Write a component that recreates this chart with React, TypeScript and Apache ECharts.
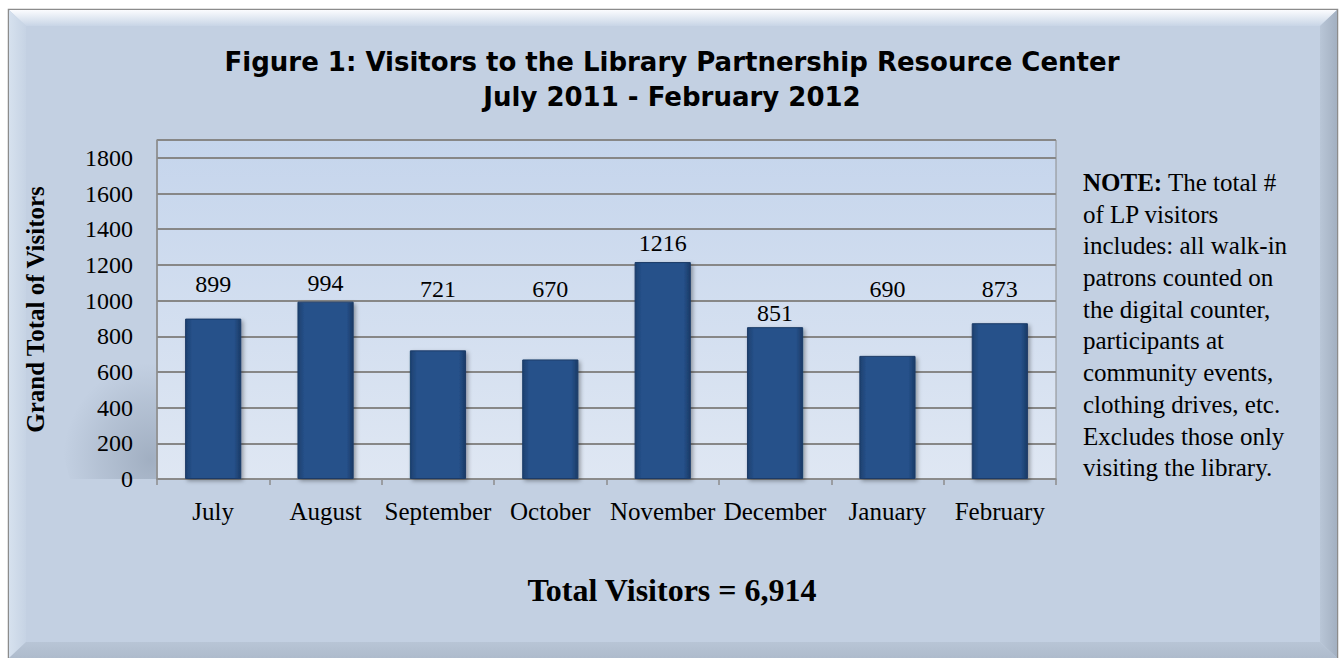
import React, { useEffect, useRef } from "react";
import * as echarts from "echarts";

const months = ["July", "August", "September", "October", "November", "December", "January", "February"];
const visitors = [899, 994, 721, 670, 1216, 851, 690, 873];
// vertical nudge (px) of each value label, as placed in the original chart
const labelNudge = [-18, -2, -44, -53, -2, 3, -50, -17];
const yMax = 1900;
const yStep = 200;
const titleLine1 = "Figure 1: Visitors to the Library Partnership Resource Center";
const titleLine2 = "July 2011 - February 2012";
const yAxisTitle = "Grand Total of Visitors";
const totalText = "Total Visitors = 6,914";
const noteLead = "NOTE:";
const noteLines = [
  " The total #",
  "of LP visitors",
  "includes: all walk-in",
  "patrons counted on",
  "the digital counter,",
  "participants at",
  "community events,",
  "clothing drives, etc.",
  "Excludes those only",
  "visiting the library.",
];

const SERIF = "'Liberation Serif', 'DejaVu Serif', serif";
const SANS = "'DejaVu Sans', 'Noto Sans', sans-serif";

export default function App() {
  const ref = useRef<HTMLDivElement>(null);
  useEffect(() => {
    if (!ref.current) return;
    const chart = echarts.init(ref.current, undefined, { renderer: "svg" });
    const noteText =
      "{b|" + noteLead + "}{r|" + noteLines[0] + "}\n" + noteLines.slice(1).map((l) => "{r|" + l + "}").join("\n");
    const barData = visitors.map((v, i) => ({ value: v, label: { offset: [0, labelNudge[i]] } }));
    const option: any = {
      animation: false,
      backgroundColor: "#ffffff",
      textStyle: { fontFamily: SERIF },
      graphic: [
        {
          type: "rect",
          z: -10,
          shape: { x: 8.5, y: 9.5, width: 1329, height: 660 },
          style: { fill: "#c3d0e2", stroke: "#8c8c8c", lineWidth: 1.5 },
        },
        {
          type: "polygon",
          z: -9,
          shape: { points: [[9, 10], [1337, 10], [1320, 26], [26, 26]] },
          style: {
            fill: new echarts.graphic.LinearGradient(0, 0, 0, 1, [
              { offset: 0, color: "#fbfcfe" },
              { offset: 1, color: "#c8d5e6" },
            ]),
          },
        },
        {
          type: "polygon",
          z: -9,
          shape: { points: [[9, 10], [26, 26], [26, 642], [9, 658]] },
          style: {
            fill: new echarts.graphic.LinearGradient(0, 0, 1, 0, [
              { offset: 0, color: "#d6e1ee" },
              { offset: 1, color: "#c6d3e4" },
            ]),
          },
        },
        {
          type: "polygon",
          z: -9,
          shape: { points: [[1337, 10], [1337, 658], [1320, 642], [1320, 26]] },
          style: {
            fill: new echarts.graphic.LinearGradient(0, 0, 1, 0, [
              { offset: 0, color: "#b9c6d7" },
              { offset: 1, color: "#a3b0c1" },
            ]),
          },
        },
        {
          type: "polygon",
          z: -9,
          shape: { points: [[9, 658], [26, 642], [1320, 642], [1337, 658]] },
          style: {
            fill: new echarts.graphic.LinearGradient(0, 0, 0, 1, [
              { offset: 0, color: "#b8c5d6" },
              { offset: 1, color: "#aebbcc" },
            ]),
          },
        },
        {
          type: "polygon",
          z: -8,
          shape: { points: [[40, 370], [156, 350], [156, 479], [70, 479]] },
          style: {
            fill: new echarts.graphic.RadialGradient(0.95, 0.85, 0.75, [
              { offset: 0, color: "rgba(110,125,145,0.4)" },
              { offset: 0.6, color: "rgba(115,130,150,0.18)" },
              { offset: 1, color: "rgba(120,135,155,0)" },
            ]),
          },
        },
        {
          type: "text",
          style: {
            text: titleLine1,
            x: 672,
            y: 62,
            align: "center",
            verticalAlign: "middle",
            font: "bold 26px " + SANS,
            fill: "#000000",
          },
        },
        {
          type: "text",
          style: {
            text: titleLine2,
            x: 672,
            y: 97,
            align: "center",
            verticalAlign: "middle",
            font: "bold 26px " + SANS,
            fill: "#000000",
          },
        },
        {
          type: "text",
          style: {
            text: totalText,
            x: 672,
            y: 590,
            align: "center",
            verticalAlign: "middle",
            font: "bold 32px " + SERIF,
            fill: "#000000",
          },
        },
        {
          type: "text",
          left: 1083,
          top: 170,
          style: {
            text: noteText,
            fill: "#000000",
            rich: {
              b: { fontFamily: SERIF, fontSize: 25, fontWeight: "bold", lineHeight: 31.7, fill: "#000" },
              r: { fontFamily: SERIF, fontSize: 25, lineHeight: 31.7, fill: "#000" },
            },
          },
        },
      ],
      grid: {
        left: 157,
        right: 288,
        top: 140,
        bottom: 179,
        show: true,
        backgroundColor: new echarts.graphic.LinearGradient(0, 0, 0, 1, [
          { offset: 0, color: "#c5d5ec" },
          { offset: 1, color: "#dfe7f3" },
        ]),
        borderColor: "#8c8c8c",
        borderWidth: 1,
      },
      xAxis: {
        type: "category",
        data: months,
        axisLine: { lineStyle: { color: "#8c8c8c", width: 1.5 } },
        axisTick: { show: true, length: 6, lineStyle: { color: "#8c8c8c", width: 1.5 } },
        axisLabel: { interval: 0, margin: 20, fontSize: 25, color: "#000", fontFamily: SERIF },
      },
      yAxis: {
        type: "value",
        min: 0,
        max: yMax,
        interval: yStep,
        name: yAxisTitle,
        nameLocation: "middle",
        nameGap: 109,
        nameRotate: 90,
        nameTextStyle: { fontFamily: SERIF, fontSize: 25, fontWeight: "bold", color: "#000" },
        axisLine: { show: true, lineStyle: { color: "#8c8c8c", width: 1.5 } },
        axisTick: { show: false },
        axisLabel: {
          margin: 24,
          fontSize: 24,
          color: "#000",
          fontFamily: SERIF,
          formatter: (v: number) => (v > 1800 ? "" : String(v)),
        },
        splitLine: { lineStyle: { color: "#878787", width: 1.8 } },
      },
      series: [
        {
          type: "bar",
          data: barData,
          barWidth: "50%",
          itemStyle: {
            color: new echarts.graphic.LinearGradient(0, 0, 1, 0, [
              { offset: 0, color: "#1d406f" },
              { offset: 0.12, color: "#26518a" },
              { offset: 0.88, color: "#26518a" },
              { offset: 1, color: "#1a3a66" },
            ]),
            borderColor: "#1b3b67",
            borderWidth: 1,
            shadowColor: "rgba(0,0,0,0.35)",
            shadowBlur: 4,
            shadowOffsetX: 2,
            shadowOffsetY: 2,
          },
          label: {
            show: true,
            position: "top",
            distance: 5,
            fontSize: 24,
            color: "#000",
            fontFamily: SERIF,
          },
        },
      ],
    };
    chart.setOption(option);
    return () => chart.dispose();
  }, []);
  return (
    <div
      ref={ref}
      style={{ position: "fixed", left: 0, top: 0, width: 1344, height: 658 }}
    />
  );
}
